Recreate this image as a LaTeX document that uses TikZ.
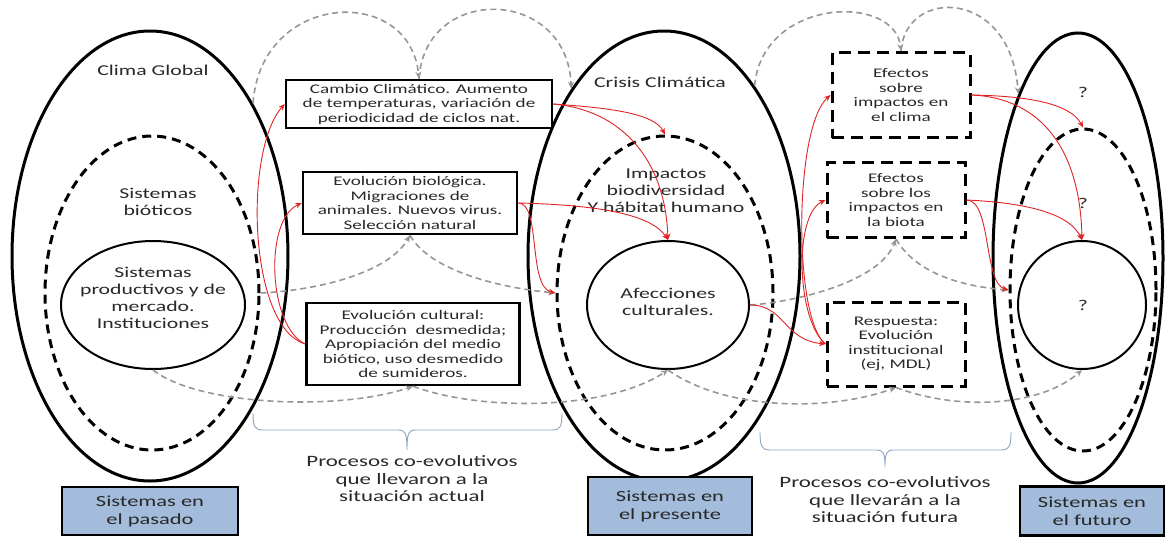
\documentclass[tikz,border=0pt]{standalone}
\usepackage{fontspec}
\setmainfont{Carlito}[FakeStretch=1.45]
\usetikzlibrary{shapes.geometric,arrows.meta}

\definecolor{txt}{RGB}{40,40,40}
\definecolor{arrgray}{RGB}{150,150,150}
\definecolor{arrred}{RGB}{225,35,35}
\definecolor{boxblue}{RGB}{163,188,219}
\definecolor{bracecol}{RGB}{140,165,195}

\begin{document}
\begin{tikzpicture}[x=1pt,y=-1pt,
  outer/.style={ellipse, draw, line width=3pt, inner sep=0pt},
  middle/.style={ellipse, draw, line width=3pt, dash pattern=on 9pt off 6pt, inner sep=0pt},
  inner/.style={ellipse, draw, line width=2pt, inner sep=0pt},
  procbox/.style={draw, line width=2.5pt, align=center, inner sep=0pt, text=txt,
    font=\fontsize{13.2}{14.5}\selectfont},
  dashbox/.style={procbox, line width=3pt, dash pattern=on 12pt off 7pt},
  sysbox/.style={draw, fill=boxblue, line width=2.5pt, align=center, inner sep=0pt,
    text=txt, font=\fontsize{15.5}{18}\selectfont},
  lbl/.style={align=center, inner sep=0pt, text=txt, font=\fontsize{15}{17}\selectfont},
  bracelbl/.style={align=center, inner sep=0pt, text=txt, font=\fontsize{15.8}{17.5}\selectfont},
  redarr/.style={draw=arrred, line width=0.9pt, -{Stealth[length=6.5pt,width=5.5pt]}},
  grayarr/.style={draw=arrgray, line width=1.6pt, dash pattern=on 6pt off 4pt,
    -{Stealth[length=7pt,width=6pt]}},
  brace/.style={draw=bracecol, line width=0.9pt}]

\useasboundingbox (0,0) rectangle (1167,538);

% --- systems in the past
\node[outer,  minimum width=276, minimum height=450] (pastO) at (150,256) {};
\node[middle, minimum width=214, minimum height=314] (pastM) at (152,293) {};
\node[inner,  minimum width=184, minimum height=128] (pastI) at (153,305) {};
\node[lbl] (pastClima) at (153,70) {Clima Global};
\node[lbl] (pastBio) at (158,202) {Sistemas\\bióticos};
\node[lbl] (pastProd) at (153,298) {Sistemas\\productivos y de\\mercado.\\Instituciones};

% --- systems in the present
\node[outer,  minimum width=272, minimum height=450] (presO) at (664,256) {};
\node[middle, minimum width=216, minimum height=314] (presM) at (665,293) {};
\node[inner,  minimum width=162, minimum height=128] (presI) at (668,305) {};
\node[lbl] (presClima) at (660,82) {Crisis Climática};
\node[lbl] (presBio) at (666,191) {Impactos\\biodiversidad\\Y hábitat humano};
\node[lbl] (presCult) at (668,302) {Afecciones\\culturales.};

% --- systems in the future
\node[outer,  minimum width=170, minimum height=450] (futO) at (1078,258) {};
\node[middle, minimum width=146, minimum height=322] (futM) at (1083,290) {};
\node[inner,  minimum width=128, minimum height=128] (futI) at (1082,305) {};
\node[lbl] (futQa) at (1083,92) {?};
\node[lbl] (futQb) at (1083,203) {?};
\node[lbl] (futQc) at (1083,305) {?};

% --- processes leading to the present
\node[procbox, minimum width=266, minimum height=48] (b1) at (419,104)
  {Cambio Climático. Aumento\\de temperaturas, variación de\\periodicidad de ciclos nat.};
\node[procbox, minimum width=214, minimum height=62] (b2) at (410,203)
  {Evolución biológica.\\Migraciones de\\animales. Nuevos virus.\\Selección natural};
\node[procbox, minimum width=213, minimum height=82] (b3) at (413,344)
  {Evolución cultural:\\Producción \ desmedida;\\Apropiación del medio\\biótico, uso desmedido\\de sumideros.};

% --- processes leading to the future
\node[dashbox, minimum width=138, minimum height=85] (b4) at (901,95)
  {Efectos\\sobre\\impactos en\\el clima};
\node[dashbox, minimum width=138, minimum height=75] (b5) at (896,200)
  {Efectos\\sobre los\\impactos en\\la biota};
\node[dashbox, minimum width=138, minimum height=84] (b6) at (896,344)
  {Respuesta:\\Evolución\\institucional\\(ej, MDL)};

% --- captions
\node[sysbox, minimum width=176, minimum height=48] (capPast) at (150,511) {Sistemas en\\el pasado};
\node[sysbox, minimum width=164, minimum height=58] (capPres) at (670,506) {Sistemas en\\el presente};
\node[sysbox, minimum width=144, minimum height=49] (capFut) at (1092,511) {Sistemas en\\el futuro};

\node[bracelbl] (procA) at (412,479) {Procesos co-evolutivos\\que llevaron a la\\situación actual};
\node[bracelbl] (procB) at (885,500) {Procesos co-evolutivos\\que llevarán a la\\situación futura};

% --- braces
\draw[brace] (253,413) .. controls (253,427) and (255,430) .. (263,430) -- (398,430)
  .. controls (405,430) and (407,432) .. (407,450)
  .. controls (407,432) and (409,430) .. (416,430) -- (552,430)
  .. controls (560,430) and (562,427) .. (562,413);
\draw[brace] (760,432) .. controls (760,447) and (762,450) .. (770,450) -- (876,450)
  .. controls (883,450) and (885,452) .. (885,467)
  .. controls (885,452) and (887,450) .. (894,450) -- (1001,450)
  .. controls (1009,450) and (1011,447) .. (1011,432);

% --- grey co-evolution loops
\draw[grayarr] (pastO.56) .. controls +(8,-112) and +(-9,-95) .. (b1.north);
\draw[grayarr] (b1.north) .. controls +(6,-95) and +(-4,-102) .. (presO.119);
\draw[grayarr] (presO.62) .. controls +(8,-88) and +(-6,-58) .. (b4.north);
\draw[grayarr] (b4.north) .. controls +(4,-63) and +(-8,-107) .. (futO.110);

\draw[grayarr] (pastM.east) .. controls +(62,-3) and +(-20,36) .. (b2.south);
\draw[grayarr] (b2.south) .. controls +(20,36) and +(-54,-5) .. (presM.west);
\draw[grayarr] (presI.east) .. controls +(45,-3) and +(-16,43) .. (b5.south);
\draw[grayarr] (b5.south) .. controls +(19,33) and +(-50,-4) .. (futM.west);

\draw[grayarr] (pastI.south) .. controls +(46,36) and +(-73,25) .. (b3.south);
\draw[grayarr] (b3.south) .. controls +(67,25) and +(-62,41) .. (presI.south);
\draw[grayarr] (presI.south) .. controls +(58,41) and +(-66,24) .. (b6.south);
\draw[grayarr] (b6.south) .. controls +(64,24) and +(-41,36) .. (futI.south);

% --- red influences
\draw[redarr] (b3.west) .. controls +(-57,-17) and +(-41,46) .. (b1.west);
\draw[redarr] (b3.west) .. controls +(-37,-17) and +(-38,17) .. (b2.west);
\draw[redarr] (b1.east) .. controls +(58,4) and +(-11,-21) .. (presM.north);
\draw[redarr] (b1.east) .. controls +(68,6) and +(-3,-81) .. (presI.north);
\draw[redarr] (b2.east) .. controls +(83,2) and +(-16,-25) .. (presI.north);
\draw[redarr] (b2.east) .. controls +(23,0) and +(-28,-6) .. (presM.west);

\draw[redarr] (presI.east) .. controls +(35,0) and +(-42,-4) .. (b6.west);
\draw[redarr] (b6.west) .. controls +(-32,-24) and +(-37,33) .. (b4.west);
\draw[redarr] (b6.west) .. controls +(-29,-24) and +(-32,15) .. (b5.west);
\draw[redarr] (b4.east) .. controls +(60,1) and +(-12,-23) .. (futM.north);
\draw[redarr] (b4.east) .. controls +(70,3) and +(-2,-90) .. (futI.north);
\draw[redarr] (b5.east) .. controls +(65,3) and +(-12,-25) .. (futI.north);
\draw[redarr] (b5.east) .. controls +(25,0) and +(-25,-7) .. (futM.west);
\end{tikzpicture}
\end{document}
